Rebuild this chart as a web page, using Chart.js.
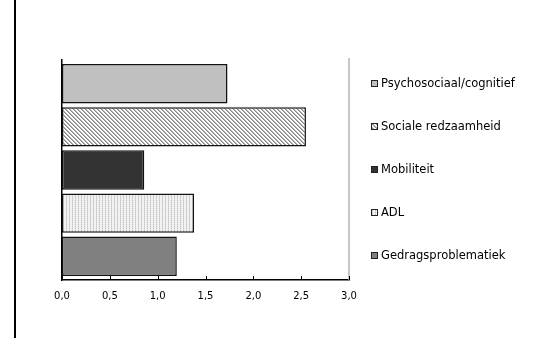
<!DOCTYPE html>
<html>
<head>
<meta charset="utf-8">
<script src="https://cdn.jsdelivr.net/npm/chart.js@4"></script>
<style>
  body { margin: 0; background: #fff; }
  #wrap { position: relative; width: 541px; height: 338px; }
  #edge { position: absolute; left: 14px; top: 0; width: 2px; height: 338px; background: #000; }
  canvas { position: absolute; left: 0; top: 0; }
</style>
</head>
<body>
<div id="wrap">
  <div id="edge"></div>
  <canvas id="chart" width="541" height="338"></canvas>
</div>
<script>
// chart data
const categories = ['Psychosociaal/cognitief', 'Sociale redzaamheid', 'Mobiliteit', 'ADL', 'Gedragsproblematiek'];
const values = [1.73, 2.55, 0.86, 1.38, 1.20];
const xTicks = [0, 0.5, 1, 1.5, 2, 2.5, 3];

// fill patterns
function makePattern(w, h, draw) {
  const c = document.createElement('canvas');
  c.width = w;
  c.height = h;
  draw(c.getContext('2d'));
  return c.getContext('2d').createPattern(c, 'repeat');
}

const hatch = makePattern(4, 4, (g) => {
  g.fillStyle = '#fff';
  g.fillRect(0, 0, 4, 4);
  for (let i = 0; i < 4; i++) {
    g.fillStyle = '#8a8a8a';
    g.fillRect(i, i, 1, 1);
    g.fillStyle = '#b0b0b0';
    g.fillRect((i + 1) % 4, i, 1, 1);
  }
});

const dots = makePattern(3, 2, (g) => {
  g.fillStyle = '#f2f2f2';
  g.fillRect(0, 0, 3, 2);
  g.fillStyle = '#c4c4c4';
  g.fillRect(0, 0, 1, 1);
  g.fillStyle = '#d8d8d8';
  g.fillRect(0, 1, 1, 1);
});

const fills = ['#c0c0c0', hatch, '#333333', dots, '#808080'];

const datasets = categories.map((name, i) => ({
  label: name,
  data: [values[i]],
  backgroundColor: fills[i],
  borderColor: '#111',
  borderWidth: 1.5,
  borderSkipped: false,
  categoryPercentage: 0.98,
  barPercentage: 0.915,
}));

const fmt = (v) => v.toFixed(1).replace('.', ',');

// gray right frame line + inner tick marks on the x axis
const framePlugin = {
  id: 'frame',
  afterDatasetsDraw(chart) {
    const { ctx, chartArea: a, scales } = chart;
    ctx.save();
    ctx.strokeStyle = '#b4b4b4';
    ctx.lineWidth = 1.5;
    ctx.beginPath();
    ctx.moveTo(a.right, a.top - 2);
    ctx.lineTo(a.right, a.bottom);
    ctx.stroke();
    ctx.strokeStyle = '#000';
    ctx.lineWidth = 1;
    xTicks.forEach((t) => {
      const x = Math.round(scales.x.getPixelForValue(t)) + 0.5;
      ctx.beginPath();
      ctx.moveTo(x, a.bottom - 4);
      ctx.lineTo(x, a.bottom);
      ctx.stroke();
    });
    ctx.restore();
  },
};

// legend drawn next to each bar
const legendPlugin = {
  id: 'sideLegend',
  afterDraw(chart) {
    const { ctx } = chart;
    ctx.save();
    ctx.font = '11.5px "DejaVu Sans"';
    ctx.textBaseline = 'middle';
    chart.data.datasets.forEach((ds, i) => {
      const bar = chart.getDatasetMeta(i).data[0];
      const y = Math.round(bar.y);
      ctx.fillStyle = ds.backgroundColor;
      ctx.fillRect(371, y - 4, 7, 7);
      ctx.strokeStyle = '#222';
      ctx.lineWidth = 1;
      ctx.strokeRect(371.5, y - 3.5, 6, 6);
      ctx.fillStyle = '#000';
      ctx.fillText(ds.label, 381, y + 0.5);
    });
    ctx.restore();
  },
};

new Chart(document.getElementById('chart'), {
  type: 'bar',
  data: { labels: [''], datasets },
  options: {
    indexAxis: 'y',
    responsive: false,
    animation: false,
    layout: { padding: { left: 62, right: 192, top: 60, bottom: 0 } },
    plugins: {
      legend: { display: false },
      tooltip: { enabled: false },
    },
    scales: {
      x: {
        min: xTicks[0],
        max: xTicks[xTicks.length - 1],
        ticks: {
          stepSize: 0.5,
          padding: 10,
          color: '#000',
          font: { family: 'DejaVu Sans', size: 10 },
          callback: (v) => fmt(v),
        },
        grid: { display: false, drawTicks: false },
        border: { display: true, color: '#000', width: 1.5 },
        afterFit: (s) => { s.height = 58; },
      },
      y: {
        ticks: { display: false },
        grid: { display: false, drawTicks: false },
        border: { display: true, color: '#000', width: 1.5 },
        afterFit: (s) => { s.width = 0; },
      },
    },
  },
  plugins: [framePlugin, legendPlugin],
});
</script>
</body>
</html>
